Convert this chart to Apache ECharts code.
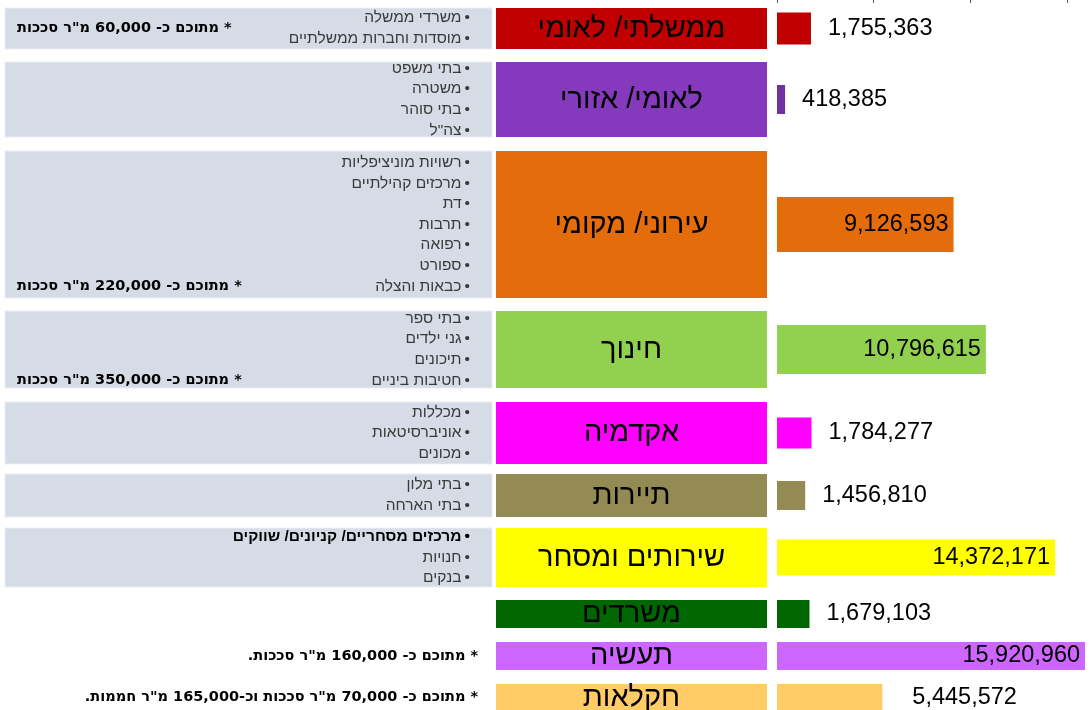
<!DOCTYPE html>
<html>
<head>
<meta charset="utf-8">
<script src="https://cdn.jsdelivr.net/npm/echarts@6/dist/echarts.min.js"></script>
<style>
  html, body { margin: 0; padding: 0; background: #fff; }
  #main { width: 1091px; height: 710px; }
  #main canvas { direction: rtl; }
</style>
</head>
<body>
<div id="main"></div>
<script>
// data
const categories = ['ממשלתי/ לאומי', 'לאומי/ אזורי', 'עירוני/ מקומי', 'חינוך', 'אקדמיה', 'תיירות', 'שירותים ומסחר', 'משרדים', 'תעשיה', 'חקלאות']
const values = [1755363, 418385, 9126593, 10796615, 1784277, 1456810, 14372171, 1679103, 15920960, 5445572]
const subItems = [
  ['משרדי ממשלה', 'מוסדות וחברות ממשלתיים'],
  ['בתי משפט', 'משטרה', 'בתי סוהר', 'צה"ל'],
  ['רשויות מוניציפליות', 'מרכזים קהילתיים', 'דת', 'תרבות', 'רפואה', 'ספורט', 'כבאות והצלה'],
  ['בתי ספר', 'גני ילדים', 'תיכונים', 'חטיבות ביניים'],
  ['מכללות', 'אוניברסיטאות', 'מכונים'],
  ['בתי מלון', 'בתי הארחה'],
  ['מרכזים מסחריים/ קניונים/ שווקים', 'חנויות', 'בנקים'],
  [], [], [],
]
const notes = [
  '* מתוכם כ- 60,000 מ"ר סככות', '',
  '* מתוכם כ- 220,000 מ"ר סככות',
  '* מתוכם כ- 350,000 מ"ר סככות', '', '', '', '',
  '* מתוכם כ- 160,000 מ"ר סככות.',
  '* מתוכם כ- 70,000 מ"ר סככות וכ-165,000 מ"ר חממות.',
]
const xTicks = [0, 5000000, 10000000, 15000000]
const xMax = 16230000

// layout / styles
const rowTop = [8, 62, 151, 311, 402, 474, 528, 600, 642, 684]
const rowHeight = [41, 75, 147, 77, 62, 43, 59, 28, 28, 27]
const barSize = [32, 29, 55, 49, 31, 29, 36, 30, 30, 27]
const labelGap = [17, 17, 5, 5, 17, 17, 5, 17, 5, 30]
const boxColors = ['#c00000', '#8539bd', '#e46c0a', '#92d050', '#ff00ff', '#948a54', '#ffff00', '#006600', '#cc66ff', '#ffcc66']
const barColors = ['#c00000', '#7030a0', '#e46c0a', '#92d050', '#ff00ff', '#948a54', '#ffff00', '#006600', '#cc66ff', '#ffcc66']
const boldRow = 6
const FONT = '"Liberation Sans", "DejaVu Sans", sans-serif'
const NOTE_FONT = '"DejaVu Sans", "Liberation Sans", sans-serif'
const PLOT_LEFT = 777
const LINE_H = 20.6

const chart = echarts.init(document.getElementById('main'))

const grids = [{ left: PLOT_LEFT, right: 0, top: -2, height: 700, outerBoundsMode: 'none', containLabel: false }]
const xAxes = [{
  gridIndex: 0, type: 'value', position: 'top', min: 0, max: xMax, interval: xTicks[1] - xTicks[0],
  axisLine: { show: false, onZero: false },
  axisTick: { show: true, inside: true, length: 5, customValues: xTicks, lineStyle: { color: '#595959' } },
  axisLabel: { show: false },
  splitLine: { show: false },
}]
const yAxes = [{ gridIndex: 0, type: 'value', show: false }]
const series = []
const graphics = []

categories.forEach((name, i) => {
  grids.push({ left: PLOT_LEFT, right: 0, top: rowTop[i], height: rowHeight[i], outerBoundsMode: 'none', containLabel: false })
  xAxes.push({ gridIndex: i + 1, type: 'value', min: 0, max: xMax, show: false })
  yAxes.push({
    gridIndex: i + 1,
    type: 'category',
    data: [name],
    axisLine: { show: false },
    axisTick: { show: false },
    axisLabel: {
      margin: 10,
      formatter: (v) => '{box|' + v + '}',
      rich: {
        box: {
          width: 271, height: rowHeight[i], backgroundColor: boxColors[i],
          align: 'center', verticalAlign: 'middle',
          fontSize: 29, color: '#000', fontFamily: FONT,
        },
      },
    },
  })
  const inside = values[i] > 8000000
  series.push({
    type: 'bar',
    xAxisIndex: i + 1,
    yAxisIndex: i + 1,
    data: [values[i]],
    barWidth: barSize[i],
    itemStyle: { color: barColors[i] },
    label: {
      show: true,
      position: inside ? 'insideRight' : 'right',
      distance: labelGap[i],
      formatter: (p) => p.value.toLocaleString('en-US'),
      fontSize: 23.5,
      color: '#000',
      fontFamily: FONT,
    },
    silent: true,
    animation: false,
  })

  const items = subItems[i]
  const center = rowTop[i] + rowHeight[i] / 2
  if (items.length) {
    graphics.push({
      type: 'rect',
      shape: { x: 5, y: rowTop[i], width: 487, height: rowHeight[i] },
      style: { fill: '#d6dce6', stroke: '#e9edf3', lineWidth: 1 },
      silent: true,
    })
    graphics.push({
      type: 'text',
      style: {
        text: items.map((t, k) => '{' + (i === boldRow && k === 0 ? 'b' : 'n') + '|•\u2009' + t + '}').join('\n'),
        x: 470, y: center, align: 'right', verticalAlign: 'middle',
        rich: {
          n: { fontSize: 15.5, lineHeight: LINE_H, fill: '#3a3a3a', fontFamily: FONT },
          b: { fontSize: 15.5, lineHeight: LINE_H, fill: '#000', fontWeight: 'bold', fontFamily: FONT },
        },
      },
      silent: true,
    })
  }
  if (notes[i]) {
    const y = items.length > 2 ? center + (items.length - 1) / 2 * LINE_H : center
    graphics.push({
      type: 'text',
      style: {
        text: notes[i],
        x: items.length ? 17 : 478, y: y,
        align: items.length ? 'left' : 'right', verticalAlign: 'middle',
        fontSize: 14.5, fontWeight: 'bold', fill: '#000', fontFamily: NOTE_FONT,
      },
      silent: true,
    })
  }
})

chart.setOption({
  backgroundColor: '#ffffff',
  animation: false,
  grid: grids,
  xAxis: xAxes,
  yAxis: yAxes,
  series: series,
  graphic: graphics,
})
</script>
</body>
</html>
